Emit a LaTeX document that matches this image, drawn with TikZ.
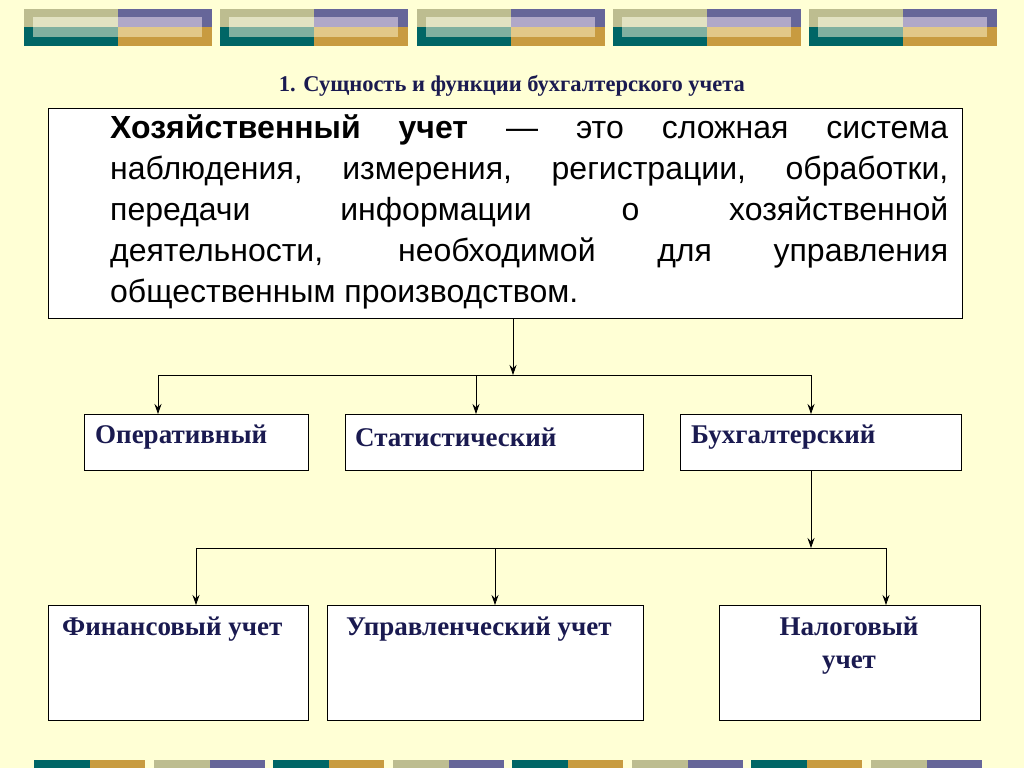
\documentclass[tikz,border=0pt]{standalone}
\usepackage{fontspec}
\usetikzlibrary{arrows.meta}
\setmainfont{Liberation Serif}
\newfontfamily\arialf{Liberation Sans}
\begin{document}
\begin{tikzpicture}[x=1pt,y=-1pt,
  box/.style={draw=black,line width=0.8pt,fill=white},
  lbl/.style={font=\fontsize{27}{32}\selectfont\bfseries,text=lbl,anchor=west,inner sep=0},
  ln/.style={line width=0.8pt},
  arr/.style={line width=0.8pt,-{Stealth[length=10pt,width=7pt]}}]
\definecolor{bg}{HTML}{FFFFD5}
\definecolor{c1}{HTML}{BDBD90}\definecolor{c2}{HTML}{006666}
\definecolor{c3}{HTML}{666699}\definecolor{c4}{HTML}{C89B40}
\definecolor{d1}{HTML}{E2E2C2}\definecolor{d2}{HTML}{80B0A0}
\definecolor{d3}{HTML}{B0A8C8}\definecolor{d4}{HTML}{E2C888}
\definecolor{lbl}{HTML}{1A1A50}
\fill[bg] (0,0) rectangle (1024,768);
\useasboundingbox (0,0) rectangle (1024,768);
\foreach \i in {0,...,4}{
 \begin{scope}[xshift=\i*196.25]
 \fill[c1] (24,9) rectangle (118,27); \fill[c2] (24,27) rectangle (118,46);
 \fill[c3] (118,9) rectangle (212,27); \fill[c4] (118,27) rectangle (212,46);
 \fill[d1] (33,17) rectangle (118,27); \fill[d2] (33,27) rectangle (118,37);
 \fill[d3] (118,17) rectangle (202,27); \fill[d4] (118,27) rectangle (202,37);
 \end{scope}}
\foreach \i in {0,...,7}{
 \begin{scope}[xshift=\i*119.5]
 \ifodd\i
 \fill[c1] (34,760) rectangle (90,768); \fill[c3] (90,760) rectangle (145,768);
 \else
 \fill[c2] (34,760) rectangle (90,768); \fill[c4] (90,760) rectangle (145,768);
 \fi
 \end{scope}}
\node[font=\fontsize{22.5}{26}\selectfont\bfseries,text=lbl] (title) at (512,86) {1. Сущность и функции бухгалтерского учета};
\node[box,minimum width=914,minimum height=210,anchor=north west] (main) at (48,108) {};
\node[anchor=north west,inner sep=0,text width=838,align=justify,
  font=\arialf\fontsize{32}{41}\selectfont] (mt) at (110,114)
 {\textbf{Хозяйственный учет} — это сложная система\linebreak наблюдения, измерения, регистрации, обработки,\linebreak передачи информации о хозяйственной\linebreak деятельности, необходимой для управления\linebreak общественным производством.};
\node[box,minimum width=224,minimum height=56,anchor=north west] (b1) at (84,414) {};
\node[box,minimum width=298,minimum height=56,anchor=north west] (b2) at (345,414) {};
\node[box,minimum width=281,minimum height=56,anchor=north west] (b3) at (680,414) {};
\node[lbl] at (95,437) {Оперативный};
\node[lbl] at (355,437) {Статистический};
\node[lbl] at (691,437) {Бухгалтерский};
\node[box,minimum width=260,minimum height=115,anchor=north west] (c1b) at (48,605) {};
\node[box,minimum width=316,minimum height=115,anchor=north west] (c2b) at (327,605) {};
\node[box,minimum width=261,minimum height=115,anchor=north west] (c3b) at (719,605) {};
\node[lbl] at (62,629) {Финансовый учет};
\node[lbl] at (346,629) {Управленческий учет};
\node[font=\fontsize{27}{33}\selectfont\bfseries,text=lbl,align=center,anchor=north,inner sep=0] at (849,617) {Налоговый\\учет};
\coordinate (j1) at (513,375);
\coordinate (h1l) at (158,375); \coordinate (h1r) at (811,375);
\draw[arr] (main.south -| j1) -- (j1);
\draw[ln] (h1l) -- (h1r);
\draw[arr] (h1l) -- (h1l |- b1.north);
\draw[arr] (476,375) -- (476,414);
\draw[arr] (h1r) -- (h1r |- b3.north);
\coordinate (j2) at (811,548);
\coordinate (h2l) at (196,548); \coordinate (h2r) at (886,548);
\draw[arr] (b3.south -| j2) -- (j2);
\draw[ln] (h2l) -- (h2r);
\draw[arr] (h2l) -- (h2l |- c1b.north);
\draw[arr] (495,548) -- (495,605);
\draw[arr] (h2r) -- (h2r |- c3b.north);
\end{tikzpicture}
\end{document}
